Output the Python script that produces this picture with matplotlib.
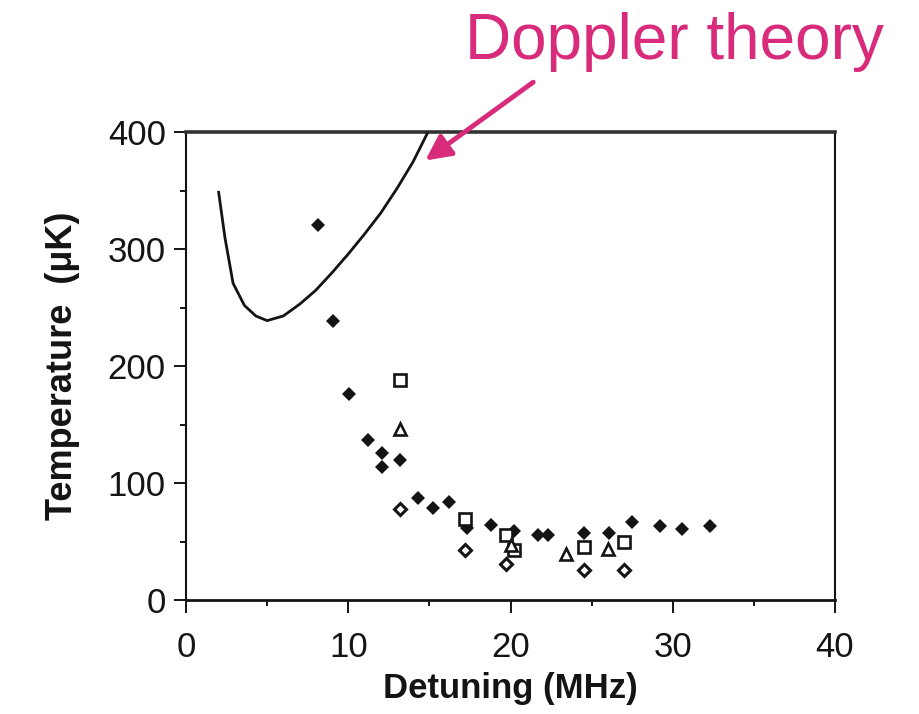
"""Laser-cooling temperature vs detuning, with the Doppler-limit curve."""
import matplotlib
matplotlib.use("Agg")
import matplotlib.pyplot as plt
from matplotlib.ticker import MultipleLocator

plt.rcParams["font.family"] = ["Liberation Sans", "DejaVu Sans"]

MAGENTA = "#D92B7B"
INK = "#141414"

# Doppler theory curve (MHz, uK)
theory_x = [2.0, 2.4, 2.9, 3.6, 4.3, 5.0, 6.0, 7.0, 8.0, 9.0, 10.0, 11.0, 12.0, 13.0, 14.0, 14.9]
theory_y = [350, 310, 271, 252, 243, 239, 243, 253, 265, 280, 296, 313, 331, 352, 375, 400]

# measured temperatures, one list per marker set
filled_x = [8.15, 9.05, 10.05, 11.2, 12.1, 12.1, 13.2, 14.3, 15.2, 16.2, 17.3, 18.8,
            20.2, 21.7, 22.3, 24.5, 26.1, 27.5, 29.2, 30.6, 32.3]
filled_y = [321, 239, 176, 137, 126, 114, 120, 87, 79, 84, 62, 64,
            59, 55.5, 55.5, 57, 57, 67, 63, 61, 63.5]

square_x = [13.2, 17.2, 19.7, 20.2, 24.5, 27.0]
square_y = [188, 69, 56, 43, 45.5, 50]

triangle_x = [13.2, 20.0, 23.45, 26.0]
triangle_y = [146, 47, 39.5, 44]

open_x = [13.2, 17.2, 19.7, 24.5, 27.0]
open_y = [78, 43, 31, 25.5, 25.5]

x_ticks = [0, 10, 20, 30, 40]
y_ticks = [0, 100, 200, 300, 400]


def main() -> None:
    fig = plt.figure(figsize=(9.19, 7.14), dpi=100)
    ax = fig.add_axes([0.2024, 0.1597, 0.7062, 0.6548])

    ax.plot(theory_x, theory_y, color=INK, lw=2.0, solid_capstyle="butt", clip_on=False, zorder=3)

    ax.plot(filled_x, filled_y, ls="none", marker="D", ms=7.2, color=INK, mew=0, zorder=4)
    ax.plot(square_x, square_y, ls="none", marker="s", ms=8.3, mfc="white", mec=INK, mew=1.9, zorder=5)
    ax.plot(triangle_x, triangle_y, ls="none", marker="^", ms=9, mfc="white", mec=INK, mew=1.9, zorder=5)
    ax.plot(open_x, open_y, ls="none", marker="D", ms=6.2, mfc="white", mec=INK, mew=2.2, zorder=5)

    ax.set_xlim(0, 40)
    ax.set_ylim(0, 400)
    ax.set_xticks(x_ticks)
    ax.set_yticks(y_ticks)
    ax.xaxis.set_minor_locator(MultipleLocator(5))
    ax.yaxis.set_minor_locator(MultipleLocator(50))

    ax.tick_params(axis="both", which="major", direction="out", width=1.4, color=INK,
                   labelsize=25, labelcolor=INK)
    ax.tick_params(axis="y", which="major", length=8.5, pad=6)
    ax.tick_params(axis="x", which="major", length=9, pad=13)
    ax.tick_params(axis="both", which="minor", direction="out", length=4.5, width=1.4, color=INK)

    for side, lw in {"left": 1.5, "right": 1.5, "bottom": 2.0, "top": 2.6}.items():
        ax.spines[side].set_linewidth(lw)
        ax.spines[side].set_color(INK)
    ax.spines["top"].set_color("#333333")

    ax.set_xlabel("Detuning (MHz)", fontsize=25, fontweight="bold", color=INK, labelpad=6)
    ax.set_ylabel("Temperature  (μK)", fontsize=26, fontweight="bold", color=INK, labelpad=20)

    # callout for the theory curve
    ax.annotate("", xy=(14.75, 376), xytext=(21.4, 443), xycoords="data", textcoords="data",
                annotation_clip=False,
                arrowprops=dict(arrowstyle="-|>", color=MAGENTA, lw=3.5,
                                mutation_scale=38, shrinkA=0, shrinkB=0))
    fig.text(0.506, 0.917, "Doppler theory", color=MAGENTA, fontsize=46,
             ha="left", va="baseline")

    fig.savefig("out.png", dpi=100, facecolor="white")


if __name__ == "__main__":
    main()
